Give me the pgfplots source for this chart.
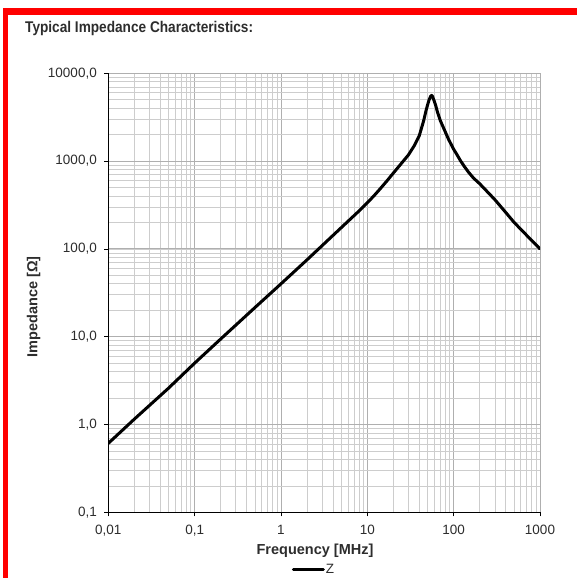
\documentclass[border=0pt]{standalone}
\usepackage{fontspec}
\setmainfont{Liberation Sans}
\usepackage{graphicx}
\usepackage{pgfplots}
\pgfplotsset{compat=1.18}

\definecolor{txt}{RGB}{45,45,45}
\definecolor{majgrid}{RGB}{175,175,175}
\definecolor{mingrid}{RGB}{205,205,205}
\definecolor{frame}{RGB}{255,0,0}

\begin{document}
\begin{tikzpicture}[x=1pt,y=1pt]
    \path[use as bounding box] (0,0) rectangle (577,578);
    \fill[frame] (3,0) rectangle (8,570);
    \fill[frame] (3,563) rectangle (577,570);
    \node[anchor=base west, inner sep=0pt, text=txt,
          font=\bfseries\fontsize{15.5}{17}\selectfont]
        at (25,545) {\scalebox{0.88}[1]{Typical Impedance Characteristics:}};

    \begin{axis}[
        at={(108.3pt,65.7pt)}, anchor=south west,
        scale only axis,
        width=431.7pt, height=439pt,
        xmode=log, ymode=log,
        xmin=0.01, xmax=1000,
        ymin=0.1, ymax=10000,
        axis x line=bottom, axis y line=left,
        axis line style={-, black, line width=0.8pt},
        tick align=outside,
        major tick length=4pt,
        minor tick length=0pt,
        tick style={black, line width=0.6pt},
        grid=both,
        major grid style={majgrid, line width=0.8pt},
        minor grid style={mingrid, line width=0.7pt},
        xtick={0.01,0.1,1,10,100,1000},
        xticklabels={{0,01},{0,1},1,10,100,1000},
        ytick={0.1,1,10,100,1000,10000},
        yticklabels={{0,1},{1,0},{10,0},{100,0},{1000,0},{10000,0}},
        ticklabel style={font=\fontsize{13.5}{15}\selectfont, text=txt},
        yticklabel style={xshift=-4pt},
        xticklabel style={yshift=-5pt},
        xlabel={Frequency [MHz]},
        ylabel={Impedance [Ω]},
        label style={font=\bfseries\fontsize{14.5}{16}\selectfont, text=txt},
        xlabel style={at={(axis description cs:0.4788,-0.095)}, anchor=base},
        ylabel style={at={(axis description cs:-0.164,0.4677)}, anchor=base},
        legend style={draw=none, fill=none, inner sep=0pt,
            at={(axis description cs:0.4248,-0.131)}, anchor=west,
            nodes={inner sep=1pt, font=\fontsize{13.5}{15}\selectfont, text=txt}},
        legend image code/.code={\draw[line width=3pt] (0pt,0pt) -- (30pt,0pt);},
    ]
        \addplot[black, line width=3pt, line join=round, line cap=round] coordinates {
            (0.01,0.61) (0.02,1.15) (0.05,2.6) (0.1,5.0) (0.2,9.4) (0.5,21.5)
            (1,40) (2,75) (5,175) (8,270) (10,335) (12,405) (14,480) (17,600)
            (20,730) (25,950) (30,1180) (35,1500) (40,1950) (45,2900)
            (48,3800) (50,4400) (52,5000) (54,5450) (55.5,5600) (57,5450)
            (59,4950) (62,4300) (65,3600) (70,2900) (80,2150) (87,1780)
            (100,1365) (110,1170) (120,1010) (135,850) (150,740) (170,640)
            (200,553) (300,364) (400,261) (500,201) (700,143) (1000,100)
        };
        \legend{Z}
    \end{axis}
\end{tikzpicture}
\end{document}
